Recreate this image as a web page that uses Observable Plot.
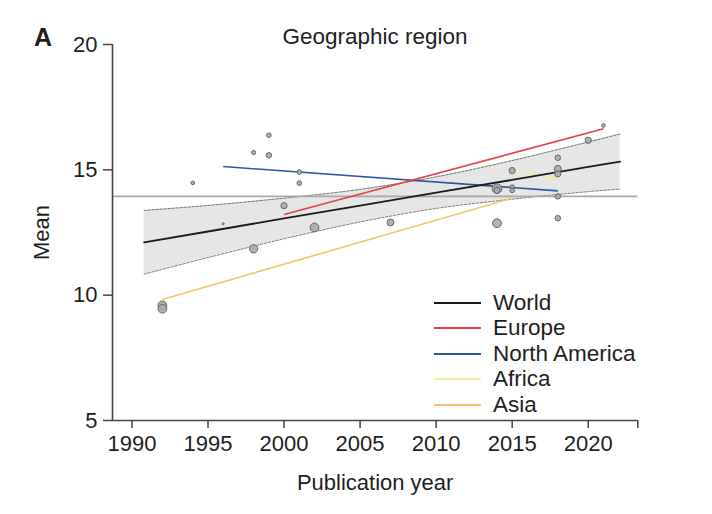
<!DOCTYPE html>
<html><head><meta charset="utf-8">
<script src="https://cdn.jsdelivr.net/npm/d3@7"></script>
<script src="https://cdn.jsdelivr.net/npm/@observablehq/plot@0.6"></script>
<style>
body{margin:0;background:#fff;font-family:"Liberation Sans",Arial,sans-serif;color:#1e1e1e;}
#wrap{position:relative;width:712px;height:514px;overflow:hidden;}
#wrap svg{position:absolute;left:0;top:0;}
.title{position:absolute;left:275px;width:200px;top:24px;text-align:center;font-size:22.5px;line-height:26px;white-space:nowrap;}
.panel{position:absolute;left:34px;top:23px;font-size:25px;font-weight:bold;line-height:28px;}
#legend{position:absolute;left:434px;top:290px;}
.row{display:flex;align-items:center;height:25.5px;font-size:22.5px;white-space:nowrap;}
.row span.sw{display:inline-block;width:47px;height:2px;margin-right:12px;}
</style></head><body><div id="wrap"></div>
<script>
// Study points: publication year, mean, weight (sample-size proxy -> dot area)
const pointYear   = [1992, 1992, 1994, 1996, 1998, 1998, 1999, 1999, 2000, 2001, 2001, 2002, 2007, 2014, 2014, 2014, 2015, 2015, 2015, 2018, 2018, 2018, 2018, 2018, 2020, 2021];
const pointMean   = [9.59, 9.46, 14.48, 12.85, 15.69, 11.85, 16.38, 15.58, 13.57, 14.91, 14.47, 12.70, 12.90, 14.18, 14.25, 12.87, 14.97, 14.31, 14.18, 15.48, 15.04, 14.84, 13.94, 13.07, 16.18, 16.77];
const pointWeight = [18, 18, 3, 1, 4, 16, 5, 7, 9, 5, 5, 18, 11, 9, 22, 18, 9, 5, 5, 7, 11, 9, 7, 7, 9, 3];

// World meta-regression fit and its confidence band
const fitYear  = [1990.8, 1995, 2000, 2005, 2010, 2015, 2020, 2022.1];
const fitMean  = [12.11, 12.54, 13.06, 13.57, 14.09, 14.60, 15.12, 15.33];
const ciUpper  = [13.38, 13.58, 13.87, 14.22, 14.72, 15.37, 16.11, 16.43];
const ciLower  = [10.84, 11.50, 12.25, 12.92, 13.46, 13.83, 14.13, 14.23];

// Regional fits
const regions         = ["Asia", "Africa", "North America", "Europe"];
const regionColor     = ["#f5c46c", "#f6ee9e", "#2b57a6", "#e8413f"];
const regionStartYear = [1992, 2015, 1996, 2000];
const regionEndYear   = [2015, 2018, 2018, 2021];
const regionStartMean = [9.83, 14.98, 15.13, 13.22];
const regionEndMean   = [13.87, 14.64, 14.16, 16.64];

const legendNames  = ["World", "Europe", "North America", "Africa", "Asia"];
const legendColors = ["#1a1a1a", "#e8413f", "#2b57a6", "#f6ee9e", "#f5c46c"];

const overallMean = 13.94;
const xTicks = [1990, 1995, 2000, 2005, 2010, 2015, 2020];
const yTicks = [5, 10, 15, 20];
const xDomain = [1988.72, 2023.26];
const yDomain = [5, 20];

const points = pointYear.map((y, i) => ({year: y, mean: pointMean[i], w: pointWeight[i]}));
const band = fitYear.map((y, i) => ({year: y, fit: fitMean[i], upper: ciUpper[i], lower: ciLower[i]}));
const regionFits = regions.map((r, i) => ({region: r, color: regionColor[i], x1: regionStartYear[i], x2: regionEndYear[i], y1: regionStartMean[i], y2: regionEndMean[i]}));

const axisColor = "#444";
const chart = Plot.plot({
  width: 712, height: 514,
  marginLeft: 112, marginRight: 74.7, marginTop: 44, marginBottom: 94,
  x: {domain: xDomain},
  y: {domain: yDomain},
  r: {type: "sqrt", domain: [0, 25], range: [0, 5.2]},
  style: {fontFamily: "'Liberation Sans', Arial, sans-serif", fontSize: "22px", color: "#1e1e1e", background: "white", overflow: "visible"},
  marks: [
    Plot.areaY(band, {x: "year", y1: "lower", y2: "upper", fill: "#e6e6e6", curve: "catmull-rom"}),
    Plot.lineY(band, {x: "year", y: "upper", stroke: "#555", strokeWidth: 0.8, strokeDasharray: "2.5,1.5", curve: "catmull-rom"}),
    Plot.lineY(band, {x: "year", y: "lower", stroke: "#555", strokeWidth: 0.8, strokeDasharray: "2.5,1.5", curve: "catmull-rom"}),
    Plot.ruleY([overallMean], {stroke: "#a8a8a8", strokeWidth: 1.6}),
    Plot.link(regionFits, {x1: "x1", y1: "y1", x2: "x2", y2: "y2", stroke: "color", strokeWidth: 1.6}),
    Plot.lineY(band, {x: "year", y: "fit", stroke: "#1a1a1a", strokeWidth: 1.8}),
    Plot.dot(points, {x: "year", y: "mean", r: "w", fill: "#a9a9a9", fillOpacity: 0.9, stroke: "#666", strokeWidth: 1}),
    Plot.axisY({ticks: yTicks, tickSize: 9, tickPadding: 6, stroke: axisColor, strokeWidth: 1.5, label: "Mean", labelAnchor: "center", labelArrow: "none", labelOffset: 79}),
    Plot.axisX({ticks: xTicks, tickFormat: "d", tickSize: 8, tickPadding: 7, stroke: axisColor, strokeWidth: 1.5, label: "Publication year", labelAnchor: "center", labelArrow: "none", labelOffset: 69}),
    Plot.axisX({ticks: [xDomain[1]], tickFormat: () => "", tickSize: 8, stroke: axisColor, strokeWidth: 1.5, label: null}),
    Plot.ruleY([yDomain[0]], {stroke: axisColor, strokeWidth: 1.6}),
    Plot.ruleX([xDomain[0]], {stroke: axisColor, strokeWidth: 1.6})
  ]
});
const wrap = document.getElementById("wrap");
wrap.appendChild(chart);

const t = document.createElement("div"); t.className = "title"; t.textContent = "Geographic region"; wrap.appendChild(t);
const p = document.createElement("div"); p.className = "panel"; p.textContent = "A"; wrap.appendChild(p);
const lg = document.createElement("div"); lg.id = "legend";
legendNames.forEach((n, i) => {
  const row = document.createElement("div"); row.className = "row";
  const sw = document.createElement("span"); sw.className = "sw"; sw.style.background = legendColors[i];
  row.appendChild(sw); row.appendChild(document.createTextNode(n));
  lg.appendChild(row);
});
wrap.appendChild(lg);
</script></body></html>
